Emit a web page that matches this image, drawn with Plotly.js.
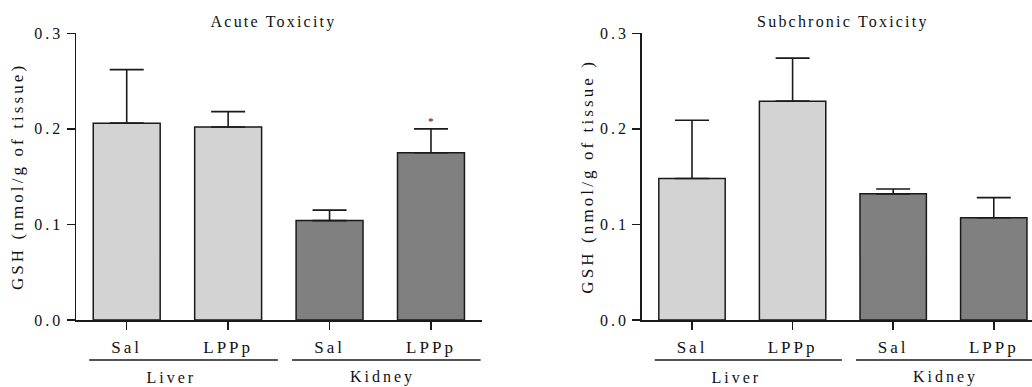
<!DOCTYPE html>
<html>
<head>
<meta charset="utf-8">
<script src="https://cdn.plot.ly/plotly-3.0.1.min.js"></script>
<style>
html,body{margin:0;padding:0;background:#fff;}
#chart{width:1032px;height:387px;}
.xtick text, .x2tick text{letter-spacing:3px;}
.ytick text, .y2tick text{letter-spacing:3px;}
</style>
</head>
<body>
<div id="chart"></div>
<script>
// ---- data ----
var treatments = ["Sal", "LPPp", "Sal", "LPPp"];
var organs = ["Liver", "Liver", "Kidney", "Kidney"];
var groups = ["Liver", "Kidney"];
var acuteMean = [0.206, 0.202, 0.104, 0.175];
var acuteSem  = [0.056, 0.016, 0.011, 0.025];
var subMean   = [0.148, 0.229, 0.132, 0.107];
var subSem    = [0.061, 0.045, 0.005, 0.021];
var acuteSig  = ["", "", "", "*"];
var yTicks = [0.0, 0.1, 0.2, 0.3];
var yTickText = ["0.0", "0.1", "0.2", "0.3"];
var panelTitles = ["Acute Toxicity", "Subchronic Toxicity"];
var yTitles = ["GSH (nmol/g of tissue)", "GSH (nmol/g of tissue )"];

var W = 1032, H = 387;
var FONT = "Liberation Serif";
var idx = treatments.map(function(_, i){ return i; });
var colorFor = {"Liver": "#d3d3d3", "Kidney": "#808080"};

function barTrace(vals, errs, xa, ya){
  return {
    type: "bar", x: idx, y: vals, xaxis: xa, yaxis: ya, width: 0.66,
    marker: {color: organs.map(function(o){ return colorFor[o]; }),
             line: {color: "#1a1a1a", width: 1.5}},
    error_y: {type: "data", symmetric: false, array: errs,
              arrayminus: errs.map(function(){ return 0; }),
              color: "#1a1a1a", thickness: 1.6, width: 17},
    showlegend: false, hoverinfo: "skip"
  };
}

var data = [
  barTrace(acuteMean, acuteSem, "x", "y"),
  barTrace(subMean, subSem, "x2", "y2")
];

var yDom = [(H - 320) / H, (H - 33.3) / H];
function xAxis(domain, range){
  return {
    domain: domain, range: range, showgrid: false, zeroline: false,
    showline: true, linecolor: "#1a1a1a", linewidth: 1.5,
    ticks: "outside", ticklen: 8, tickwidth: 1.5, tickcolor: "#1a1a1a",
    tickvals: idx, ticktext: treatments, ticklabelstandoff: 3,
    tickfont: {family: FONT, size: 17, color: "#111"}, fixedrange: true
  };
}
function yAxis(anchor){
  return {
    domain: yDom, range: [0, 0.3], anchor: anchor, showgrid: false, zeroline: false,
    showline: true, linecolor: "#1a1a1a", linewidth: 1.5,
    ticks: "outside", ticklen: 8, tickwidth: 1.5, tickcolor: "#1a1a1a",
    tickvals: yTicks, ticktext: yTickText,
    tickfont: {family: FONT, size: 16, color: "#111"}, fixedrange: true
  };
}

var xd1 = [76 / W, 481.7 / W];
var xd2 = [641.7 / W, 1];
var layout = {
  width: W, height: H, margin: {l: 0, r: 0, t: 0, b: 0},
  paper_bgcolor: "#fff", plot_bgcolor: "#fff",
  font: {family: FONT, color: "#111"},
  xaxis: Object.assign(xAxis(xd1, [-0.5, 3.5]), {anchor: "y"}),
  yaxis: yAxis("x"),
  xaxis2: Object.assign(xAxis(xd2, [-0.5, 3.38]), {anchor: "y2"}),
  yaxis2: yAxis("x2"),
  shapes: [], annotations: []
};
var spacing = [];
function addAnn(a, sp){ layout.annotations.push(a); spacing.push(sp); }

var axPairs = [["x", xd1], ["x2", xd2]];
axPairs.forEach(function(p, k){
  var xr = p[0];
  var titleCenter = k === 0 ? 273 / W : 843 / W;
  addAnn({
    text: panelTitles[k], xref: "paper", yref: "paper", x: titleCenter, y: 1 - 22 / H,
    xanchor: "center", yanchor: "middle", showarrow: false,
    font: {family: FONT, size: 16, color: "#111"}
  }, 2.2);
  addAnn({
    text: yTitles[k], xref: "paper", yref: "paper",
    x: (k === 0 ? 18 : 588) / W, y: 1 - 177 / H,
    xanchor: "center", yanchor: "middle", textangle: -90, showarrow: false,
    font: {family: FONT, size: 17, color: "#111"}
  }, 3.1);
  groups.forEach(function(g, gi){
    var members = idx.filter(function(i){ return organs[i] === g; });
    var first = Math.min.apply(null, members), last = Math.max.apply(null, members);
    layout.shapes.push({
      type: "line", xref: xr, yref: "paper",
      x0: first - 0.37, x1: last + 0.49, y0: 1 - 360 / H, y1: 1 - 360 / H,
      line: {color: "#1a1a1a", width: 1.5}
    });
    addAnn({
      text: g, xref: xr, yref: "paper", x: (first + last) / 2, xshift: gi === 0 ? -6 : 2,
      y: 0, yanchor: "bottom", xanchor: "center", showarrow: false, borderpad: 0,
      font: {family: FONT, size: 16, color: "#111"}
    }, 3);
  });
});

acuteSig.forEach(function(s, i){
  if (!s) return;
  addAnn({
    text: s, xref: "x", yref: "y", x: i, y: acuteMean[i] + acuteSem[i],
    xanchor: "center", yanchor: "bottom", yshift: 0, showarrow: false,
    font: {family: FONT, size: 11, color: "#111"}
  }, 0);
});

var css = spacing.map(function(sp, i){
  return 'g.annotation[data-index="' + i + '"] text{letter-spacing:' + sp + 'px;}';
}).join("\n");
var st = document.createElement("style");
st.textContent = css;
document.head.appendChild(st);

Plotly.newPlot("chart", data, layout, {staticPlot: true, displayModeBar: false});
</script>
</body>
</html>
